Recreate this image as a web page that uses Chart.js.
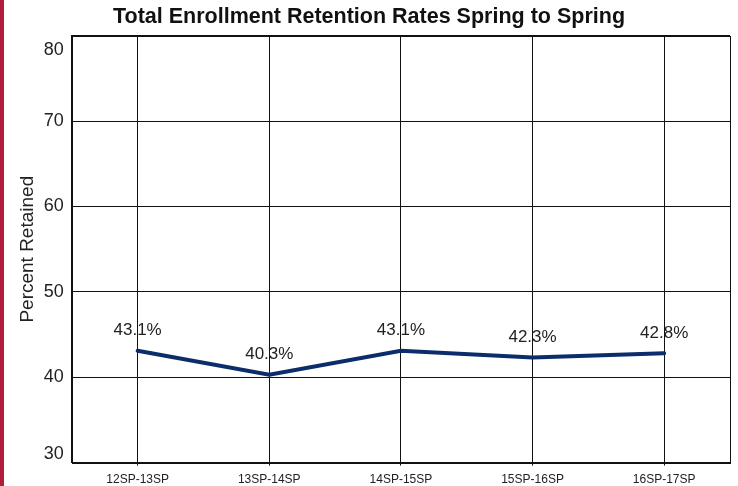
<!DOCTYPE html>
<html>
<head>
<meta charset="utf-8">
<script src="https://cdn.jsdelivr.net/npm/chart.js@4"></script>
<style>
  html, body { margin: 0; padding: 0; background: #fff; }
  #wrap { position: relative; width: 738px; height: 486px; }
  #bar { position: absolute; left: 0; top: 0; width: 4px; height: 486px; background: #b01c3c; }
  canvas { position: absolute; left: 0; top: 0; }
</style>
</head>
<body>
<div id="wrap">
  <canvas id="retention-chart" width="738" height="486"></canvas>
  <div id="bar"></div>
</div>
<script>
const terms = ['12SP-13SP', '13SP-14SP', '14SP-15SP', '15SP-16SP', '16SP-17SP']
const retained = [43.1, 40.3, 43.1, 42.3, 42.8]
const yTicks = [30, 40, 50, 60, 70, 80]

const fontFamily = '"Liberation Sans", Arial, Helvetica, sans-serif'
const ctx = document.getElementById('retention-chart')

// box round the plot area, the library only draws the left and bottom edges
const frame = {
    id: 'frame',
    afterDraw(chart) {
        const { ctx, chartArea: a } = chart
        ctx.save()
        ctx.strokeStyle = '#111'
        ctx.lineWidth = 1
        ctx.strokeRect(Math.round(a.left) + 0.5, Math.round(a.top) + 0.5,
            Math.round(a.right - a.left), Math.round(a.bottom - a.top))
        ctx.restore()
    }
}

// y labels: the end ones are kept inside the plot box like the original
const yLabels = {
    id: 'yLabels',
    afterDraw(chart) {
        const { ctx, chartArea: a } = chart
        const y = chart.scales.y
        ctx.save()
        ctx.font = '18px ' + fontFamily
        ctx.fillStyle = '#222'
        ctx.textAlign = 'right'
        ctx.textBaseline = 'middle'
        yTicks.forEach(v => {
            let py = y.getPixelForValue(v)
            py = Math.min(Math.max(py, a.top + 14), a.bottom - 9)
            ctx.fillText(String(v), a.left - 8, py)
        })
        ctx.restore()
    }
}

// "43.1%" style labels above each point
const valueLabels = {
    id: 'valueLabels',
    afterDatasetsDraw(chart) {
        const { ctx } = chart
        const meta = chart.getDatasetMeta(0)
        ctx.save()
        ctx.font = '17px ' + fontFamily
        ctx.fillStyle = '#222'
        ctx.textAlign = 'center'
        ctx.textBaseline = 'middle'
        meta.data.forEach((pt, i) => {
            ctx.fillText(retained[i].toFixed(1) + '%', pt.x, pt.y - 20)
        })
        ctx.restore()
    }
}

new Chart(ctx, {
    type: 'line',
    data: {
        labels: terms,
        datasets: [{
            data: retained,
            borderColor: '#0b2d6b',
            borderWidth: 4,
            borderCapStyle: 'round',
            pointRadius: 0,
            tension: 0
        }]
    },
    options: {
        responsive: false,
        animation: false,
        layout: { padding: { left: 8, right: 8, top: 0, bottom: -8 } },
        plugins: {
            legend: { display: false },
            tooltip: { enabled: false },
            title: {
                display: true,
                text: 'Total Enrollment Retention Rates Spring to Spring',
                color: '#111',
                font: { family: fontFamily, size: 21.5, weight: 'bold' },
                padding: { top: 4, bottom: 6 }
            }
        },
        scales: {
            x: {
                offset: true,
                grid: { offset: false, color: '#111', lineWidth: 1, tickLength: 3 },
                border: { color: '#111' },
                ticks: {
                    color: '#222',
                    padding: 7,
                    maxRotation: 0,
                    font: { family: fontFamily, size: 12 }
                }
            },
            y: {
                min: yTicks[0],
                max: yTicks[yTicks.length - 1],
                afterBuildTicks(axis) {
                    axis.ticks = yTicks.map(v => ({ value: v }))
                },
                grid: { color: '#111', lineWidth: 1, drawTicks: false },
                border: { color: '#111' },
                ticks: {
                    // drawn by the yLabels plugin, kept here only for spacing
                    color: 'rgba(0,0,0,0)',
                    padding: 4,
                    font: { family: fontFamily, size: 18 }
                },
                title: {
                    display: true,
                    text: 'Percent Retained',
                    color: '#222',
                    font: { family: fontFamily, size: 19 },
                    padding: { top: 8, bottom: 5 }
                }
            }
        }
    },
    plugins: [frame, yLabels, valueLabels]
})
</script>
</body>
</html>
